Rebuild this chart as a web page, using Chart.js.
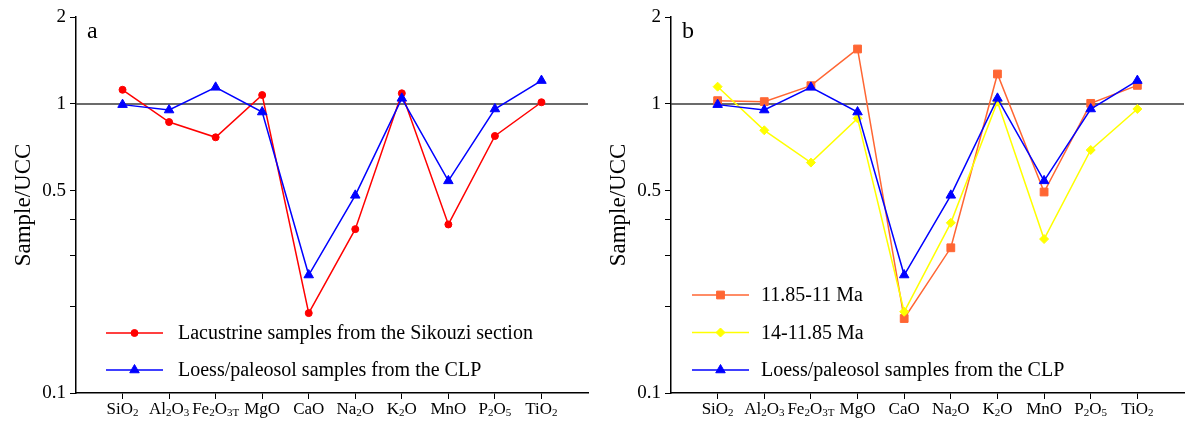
<!DOCTYPE html>
<html>
<head>
<meta charset="utf-8">
<script src="https://cdn.jsdelivr.net/npm/chart.js@4.4.1/dist/chart.umd.min.js"></script>
<style>
html, body { margin: 0; padding: 0; background: #fff; }
#wrap { position: relative; width: 1191px; height: 423px; }
canvas { position: absolute; top: 0; }
#chartA { left: 0; }
#chartB { left: 595px; }
</style>
</head>
<body>
<div id="wrap">
  <canvas id="chartA" width="595" height="423"></canvas>
  <canvas id="chartB" width="596" height="423"></canvas>
</div>
<script>
// categories, {..} = subscript
const categories = ['SiO{2}', 'Al{2}O{3}', 'Fe{2}O{3T}', 'MgO', 'CaO', 'Na{2}O', 'K{2}O', 'MnO', 'P{2}O{5}', 'TiO{2}'];

// Sample/UCC values
const lacustrine  = [1.12, 0.866, 0.767, 1.074, 0.189, 0.369, 1.089, 0.383, 0.775, 1.014];
const loessCLP    = [0.995, 0.953, 1.142, 0.938, 0.256, 0.483, 1.046, 0.542, 0.961, 1.205];
const age11_1185  = [1.027, 1.019, 1.157, 1.55, 0.181, 0.318, 1.27, 0.496, 1.005, 1.16];
const age1185_14  = [1.148, 0.811, 0.627, 0.892, 0.191, 0.388, 1.019, 0.341, 0.693, 0.961];

const yTickValues = [0.1, 0.2, 0.3, 0.4, 0.5, 1, 2];
const yTickLabels = [0.1, 0.5, 1, 2];

const FONT = "'Liberation Serif', 'Times New Roman', serif";

function toPoints(arr) {
    return arr.map((v, i) => ({ x: i + 1, y: v }));
}

// split 'Fe{2}O{3T}' into normal / subscript parts
function parseLabel(str) {
    const parts = [];
    const re = /([^{]+)|\{([^}]*)\}/g;
    let m;
    while ((m = re.exec(str)) !== null) {
        if (m[1]) parts.push({ t: m[1], sub: false });
        else parts.push({ t: m[2], sub: true });
    }
    return parts;
}

const decor = {
    id: 'decor',
    beforeDatasetsDraw(chart) {
        const { ctx, chartArea, scales } = chart;
        const y1 = scales.y.getPixelForValue(1);
        ctx.save();
        ctx.strokeStyle = '#3a3a3a';
        ctx.lineWidth = 1.5;
        ctx.beginPath();
        ctx.moveTo(chartArea.left, y1);
        ctx.lineTo(chartArea.right, y1);
        ctx.stroke();
        ctx.restore();
    },
    afterDraw(chart, args, opts) {
        const { ctx, chartArea, scales } = chart;
        ctx.save();

        // x labels with subscripts
        ctx.fillStyle = '#000';
        ctx.textBaseline = 'alphabetic';
        const baseY = scales.x.top + 21;
        categories.forEach((c, i) => {
            const parts = parseLabel(c);
            let total = 0;
            parts.forEach(p => {
                ctx.font = (p.sub ? '11px ' : '17px ') + FONT;
                p.w = ctx.measureText(p.t).width;
                total += p.w;
            });
            let x = scales.x.getPixelForValue(i + 1) - total / 2;
            parts.forEach(p => {
                ctx.font = (p.sub ? '11px ' : '17px ') + FONT;
                ctx.fillText(p.t, x, p.sub ? baseY + 2 : baseY);
                x += p.w;
            });
        });

        // panel letter
        ctx.font = '24px ' + FONT;
        ctx.textBaseline = 'middle';
        ctx.fillText(opts.letter, chartArea.left + 11, chartArea.top + 15);

        // legend inside plot
        const lg = opts.legend;
        ctx.font = '20px ' + FONT;
        chart.data.datasets.forEach((ds, i) => {
            const y = chartArea.bottom - lg.fromBottom + i * lg.rowH;
            const x0 = chartArea.left + lg.x;
            ctx.strokeStyle = ds.borderColor;
            ctx.lineWidth = ds.borderWidth;
            ctx.beginPath();
            ctx.moveTo(x0, y);
            ctx.lineTo(x0 + lg.lineLen, y);
            ctx.stroke();
            ctx.fillStyle = ds.pointBackgroundColor;
            ctx.strokeStyle = ds.pointBorderColor;
            ctx.lineWidth = ds.pointBorderWidth;
            Chart.helpers.drawPoint(ctx, {
                pointStyle: ds.pointStyle,
                radius: ds.pointRadius,
                rotation: 0,
                borderWidth: ds.pointBorderWidth
            }, x0 + lg.lineLen / 2, y);
            ctx.fillStyle = '#000';
            ctx.fillText(ds.label, x0 + lg.lineLen + lg.gap, y + 1);
        });

        ctx.restore();
    }
};

function series(label, data, color, style, radius, order) {
    return {
        label: label,
        data: toPoints(data),
        borderColor: color,
        backgroundColor: color,
        borderWidth: 1.5,
        pointStyle: style,
        pointRadius: radius,
        pointBackgroundColor: color,
        pointBorderColor: color,
        pointBorderWidth: 1,
        pointHoverRadius: radius,
        order: order
    };
}

function makeChart(id, datasets, letter, legend) {
    return new Chart(document.getElementById(id), {
        type: 'line',
        data: { datasets: datasets },
        options: {
            responsive: false,
            animation: false,
            events: [],
            layout: { padding: { top: 17, right: 7, left: 0, bottom: 0 } },
            plugins: {
                legend: { display: false },
                tooltip: { enabled: false },
                decor: { letter: letter, legend: legend }
            },
            scales: {
                x: {
                    type: 'linear',
                    min: 0,
                    max: 11,
                    afterBuildTicks: s => { s.ticks = categories.map((c, i) => ({ value: i + 1 })); },
                    afterFit: s => { s.height = 30; },
                    ticks: { callback: () => '', font: { size: 1 } },
                    grid: { drawOnChartArea: false, drawTicks: true, tickLength: 6, color: '#000', lineWidth: 1 },
                    border: { display: true, color: '#000', width: 1.5 }
                },
                y: {
                    type: 'logarithmic',
                    min: 0.1,
                    max: 2,
                    afterBuildTicks: s => { s.ticks = yTickValues.map(v => ({ value: v })); },
                    afterFit: s => { s.width = 76; },
                    ticks: {
                        autoSkip: false,
                        padding: 4,
                        color: '#000',
                        font: { family: FONT, size: 19 },
                        callback: v => yTickLabels.includes(v) ? String(v) : ''
                    },
                    grid: { drawOnChartArea: false, drawTicks: true, tickLength: 6, color: '#000', lineWidth: 1 },
                    border: { display: true, color: '#000', width: 1.5 },
                    title: {
                        display: true,
                        text: 'Sample/UCC',
                        color: '#000',
                        font: { family: FONT, size: 23 },
                        padding: { top: 10, bottom: 0 }
                    }
                }
            }
        },
        plugins: [decor]
    });
}

makeChart('chartA', [
    series('Lacustrine samples from the Sikouzi section', lacustrine, '#ff0000', 'circle', 3.5, 1),
    series('Loess/paleosol samples from the CLP', loessCLP, '#0000ff', 'triangle', 5.5, 0)
], 'a', { x: 30, lineLen: 57, gap: 15, fromBottom: 60, rowH: 37 });

makeChart('chartB', [
    series('11.85-11 Ma', age11_1185, '#ff6633', 'rect', 5.5, 2),
    series('14-11.85 Ma', age1185_14, '#ffff00', 'rectRot', 4.5, 1),
    series('Loess/paleosol samples from the CLP', loessCLP, '#0000ff', 'triangle', 5.5, 0)
], 'b', { x: 21, lineLen: 57, gap: 12, fromBottom: 98, rowH: 37.5 });
</script>
</body>
</html>
